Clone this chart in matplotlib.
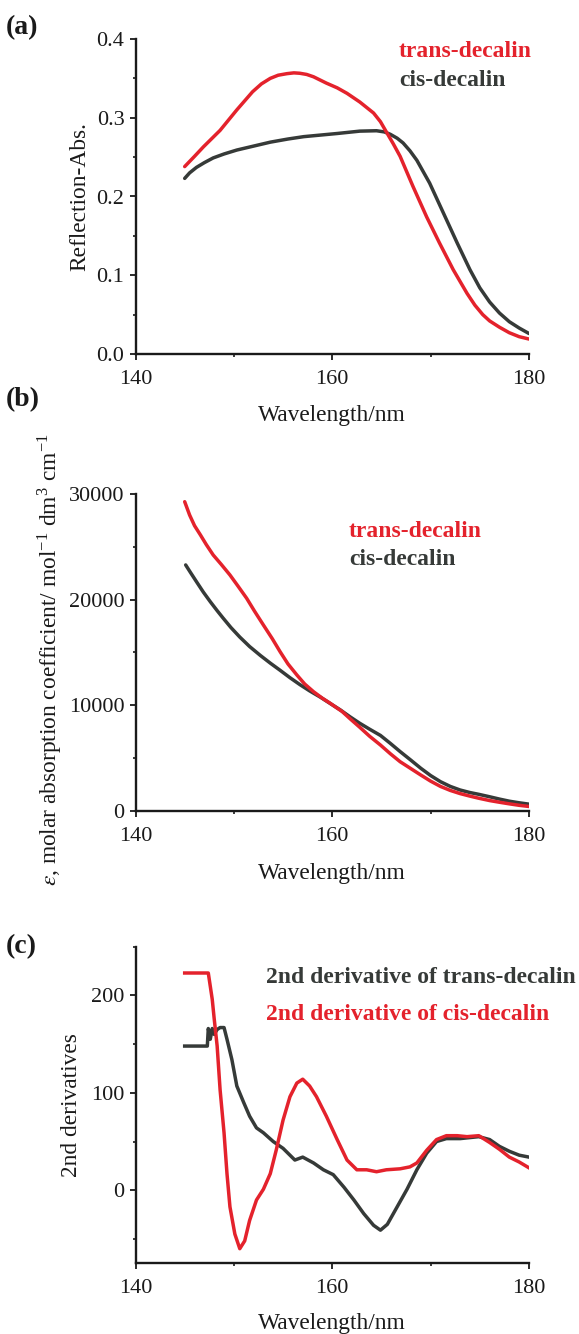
import matplotlib
matplotlib.use("Agg")
import matplotlib.pyplot as plt
from matplotlib.ticker import MultipleLocator, FormatStrFormatter

# ---------------- data ----------------
# (a) reflection absorbance
wl_a_trans = [145.0, 146.0, 146.9, 148.6, 150.3, 151.9, 152.8, 153.7, 154.5, 155.4,
              156.1, 156.7, 157.4, 158.1, 159.4, 160.5, 161.5, 162.8, 164.2, 164.9,
              165.5, 166.2, 166.9, 168.2, 169.6, 170.9, 172.3, 173.7, 174.5, 175.3,
              176.0, 177.0, 178.0, 179.0, 180.0]
abs_a_trans = [0.238, 0.251, 0.263, 0.284, 0.310, 0.333, 0.343, 0.350, 0.354, 0.356,
               0.357, 0.3565, 0.355, 0.352, 0.344, 0.338, 0.331, 0.320, 0.306, 0.295,
               0.282, 0.267, 0.251, 0.213, 0.174, 0.141, 0.107, 0.077, 0.062, 0.050,
               0.042, 0.034, 0.027, 0.022, 0.019]
wl_a_cis = [145.0, 145.5, 146.2, 147.0, 147.9, 149.0, 150.3, 152.0, 153.7, 155.5,
            157.1, 160.5, 162.8, 164.5, 165.3, 165.9, 166.6, 167.2, 167.9, 168.6,
            169.9, 171.3, 172.7, 174.0, 175.0, 176.0, 177.0, 178.0, 179.0, 180.0]
abs_a_cis = [0.223, 0.230, 0.237, 0.243, 0.249, 0.254, 0.259, 0.264, 0.269, 0.273,
             0.276, 0.280, 0.283, 0.2835, 0.282, 0.279, 0.274, 0.268, 0.258, 0.246,
             0.217, 0.179, 0.141, 0.107, 0.084, 0.066, 0.052, 0.041, 0.033, 0.026]

# (b) molar absorption coefficient
wl_b_trans = [145.0, 145.5, 146.0, 146.6, 147.2, 147.9, 148.7, 149.6, 150.4, 151.3,
              152.1, 153.0, 153.9, 154.7, 155.5, 156.4, 157.2, 158.1, 159.0, 159.8,
              160.4, 161.0, 161.8, 162.8, 163.8, 164.9, 165.9, 166.9, 168.0, 169.0,
              170.0, 171.0, 172.0, 173.0, 174.0, 174.9, 176.0, 177.0, 178.0, 179.0,
              180.0]
eps_b_trans = [29270, 28010, 27000, 26120, 25200, 24220, 23350, 22330, 21300, 20120,
               18900, 17590, 16300, 15060, 13900, 12860, 12000, 11270, 10650, 10170,
               9780, 9400, 8720, 7900, 7050, 6220, 5400, 4640, 3980, 3380,
               2800, 2300, 1920, 1620, 1380, 1180, 960, 800, 650, 510,
               400]
wl_b_cis = [145.1, 145.6, 146.2, 146.9, 147.6, 148.3, 148.9, 149.7, 150.6, 151.6,
            152.7, 153.7, 154.7, 155.7, 156.7, 157.7, 158.8, 159.8, 160.8, 161.8,
            162.8, 163.8, 164.9, 165.9, 166.9, 168.0, 169.0, 170.0, 171.0, 172.0,
            173.0, 174.0, 174.9, 176.0, 177.0, 178.0, 179.0, 180.0]
eps_b_cis = [23280, 22550, 21690, 20700, 19800, 18950, 18250, 17350, 16450, 15550,
             14700, 13980, 13300, 12600, 11950, 11350, 10750, 10150, 9560, 8900,
             8280, 7720, 7130, 6380, 5600, 4780, 4020, 3330, 2750, 2300,
             1960, 1720, 1550, 1320, 1100, 900, 750, 620]

# (c) second derivatives
wl_c_trans = [145.0, 147.3, 147.4, 147.6, 147.8, 148.0, 148.3, 148.6, 149.0, 149.3,
              149.8, 150.3, 151.0, 151.6, 152.3, 153.0, 154.0, 155.0, 156.2, 157.0,
              158.1, 159.1, 160.1, 161.2, 162.2, 163.2, 164.2, 164.9, 165.6, 166.6,
              167.6, 168.6, 169.6, 170.6, 171.6, 173.0, 174.9, 176.0, 177.0, 178.0,
              179.0, 180.0]
d2_c_trans = [148, 148, 166, 155, 166, 160, 165, 167, 167, 155,
              134, 107, 90, 76, 64, 59, 50, 43, 31, 34,
              28, 21, 16, 3, -10, -24, -36, -41, -35, -17,
              1, 21, 38, 50, 53, 53, 55, 52, 45, 40,
              36, 34]
wl_c_cis = [145.0, 147.4, 147.8, 148.0, 148.3, 148.6, 149.0, 149.3, 149.6, 150.1,
            150.6, 151.1, 151.6, 152.3, 153.0, 153.7, 154.3, 155.0, 155.7, 156.4,
            157.0, 157.7, 158.4, 159.4, 160.5, 161.5, 162.5, 163.5, 164.5, 165.5,
            166.9, 167.9, 168.6, 169.6, 170.6, 171.6, 172.7, 173.7, 174.9, 176.0,
            177.0, 178.0, 179.0, 180.0]
d2_c_cis = [223, 223, 196, 176, 148, 103, 59, 17, -17, -45,
            -60, -52, -31, -10, 1, 17, 41, 72, 96, 110,
            114, 107, 96, 76, 52, 31, 21, 21, 19, 21,
            22, 24, 28, 41, 52, 56, 56, 55, 56, 49,
            42, 34, 29, 23]

x_ticks = [140, 160, 180]

# ---------------- style ----------------
plt.rcParams['font.family'] = ['Liberation Serif', 'DejaVu Serif']
plt.rcParams['mathtext.fontset'] = 'stix'

RED = '#e4222c'
DARK = '#363a38'
INK = '#1a1a1a'
W, H = 579, 1334
LABEL_FS = 16.8
TICK_FS = 16
LEG_FS = 17
PANEL_FS = 20
LW = 2.5

fig = plt.figure(figsize=(W / 100, H / 100), dpi=100)


def px_axes(left, right, top, bottom):
    return fig.add_axes([left / W, 1 - bottom / H, (right - left) / W, (bottom - top) / H])


def style_axes(ax, ylim, ymajor, yminor):
    ax.set_xlim(140, 180)
    ax.set_ylim(*ylim)
    ax.set_xticks(x_ticks)
    ax.xaxis.set_minor_locator(MultipleLocator(10))
    ax.yaxis.set_major_locator(MultipleLocator(ymajor))
    ax.yaxis.set_minor_locator(MultipleLocator(yminor))
    for s in ('top', 'right'):
        ax.spines[s].set_visible(False)
    for s in ('left', 'bottom'):
        ax.spines[s].set_linewidth(1.7)
        ax.spines[s].set_color(INK)
    ax.tick_params(which='major', direction='out', length=4.5, width=1.3,
                   labelsize=TICK_FS, color=INK, labelcolor=INK)
    ax.tick_params(which='minor', direction='out', length=2.5, width=1.2, color=INK)
    ax.tick_params(axis='x', which='major', pad=7)
    ax.tick_params(axis='y', which='major', pad=3.5)
    ax.set_xlabel('Wavelength/nm', fontsize=LABEL_FS, va='baseline', color=INK)


def panel_text(x, y, s, **kw):
    fig.text(x / W, 1 - y / H, s, va='baseline', ha='left', **kw)


# ---------- (a) ----------
axa = px_axes(135.5, 529, 39, 354)
axa.plot(wl_a_cis, abs_a_cis, color=DARK, lw=LW, solid_capstyle='round')
axa.plot(wl_a_trans, abs_a_trans, color=RED, lw=LW, solid_capstyle='round')
style_axes(axa, (0, 0.4), 0.1, 0.05)
axa.yaxis.set_major_formatter(FormatStrFormatter('%.1f'))
axa.set_ylabel('Reflection-Abs.', fontsize=LABEL_FS, va='center', color=INK)
axa.yaxis.set_label_coords(-0.1426, 0.5)
axa.xaxis.set_label_coords(0.5, -0.2117)
panel_text(399, 57.3, 'trans-decalin', color=RED, fontsize=LEG_FS, fontweight='bold')
panel_text(399, 86, 'cis-decalin', color=DARK, fontsize=LEG_FS, fontweight='bold')
panel_text(6, 34, '(a)', color=INK, fontsize=PANEL_FS, fontweight='bold')

# ---------- (b) ----------
axb = px_axes(135.5, 529, 494, 810.7)
axb.plot(wl_b_cis, eps_b_cis, color=DARK, lw=LW, solid_capstyle='round')
axb.plot(wl_b_trans, eps_b_trans, color=RED, lw=LW, solid_capstyle='round')
style_axes(axb, (0, 30000), 10000, 5000)
axb.set_ylabel(r'$\varepsilon$, molar absorption coefficient/ mol$^{\mathregular{-1}}$ '
               r'dm$^{\mathregular{3}}$ cm$^{\mathregular{-1}}$',
               fontsize=LABEL_FS, va='center', color=INK)
axb.yaxis.set_label_coords(-0.2173, 0.476)
axb.xaxis.set_label_coords(0.5, -0.2157)
panel_text(349, 536.7, 'trans-decalin', color=RED, fontsize=LEG_FS, fontweight='bold')
panel_text(349, 565, 'cis-decalin', color=DARK, fontsize=LEG_FS, fontweight='bold')
panel_text(6, 406, '(b)', color=INK, fontsize=PANEL_FS, fontweight='bold')

# ---------- (c) ----------
axc = px_axes(135.5, 529, 946.7, 1263.3)
axc.plot(wl_c_trans, d2_c_trans, color=DARK, lw=LW)
axc.plot(wl_c_cis, d2_c_cis, color=RED, lw=LW)
style_axes(axc, (-75, 250), 100, 50)
axc.set_ylabel('2nd derivatives', fontsize=LABEL_FS, va='center', color=INK)
axc.yaxis.set_label_coords(-0.1614, 0.5)
axc.xaxis.set_label_coords(0.5, -0.2075)
panel_text(266, 982.7, '2nd derivative of trans-decalin', color=DARK,
           fontsize=LEG_FS, fontweight='bold')
panel_text(266, 1020, '2nd derivative of cis-decalin', color=RED,
           fontsize=LEG_FS, fontweight='bold')
panel_text(6, 953, '(c)', color=INK, fontsize=PANEL_FS, fontweight='bold')

fig.savefig('out.png', dpi=100)
